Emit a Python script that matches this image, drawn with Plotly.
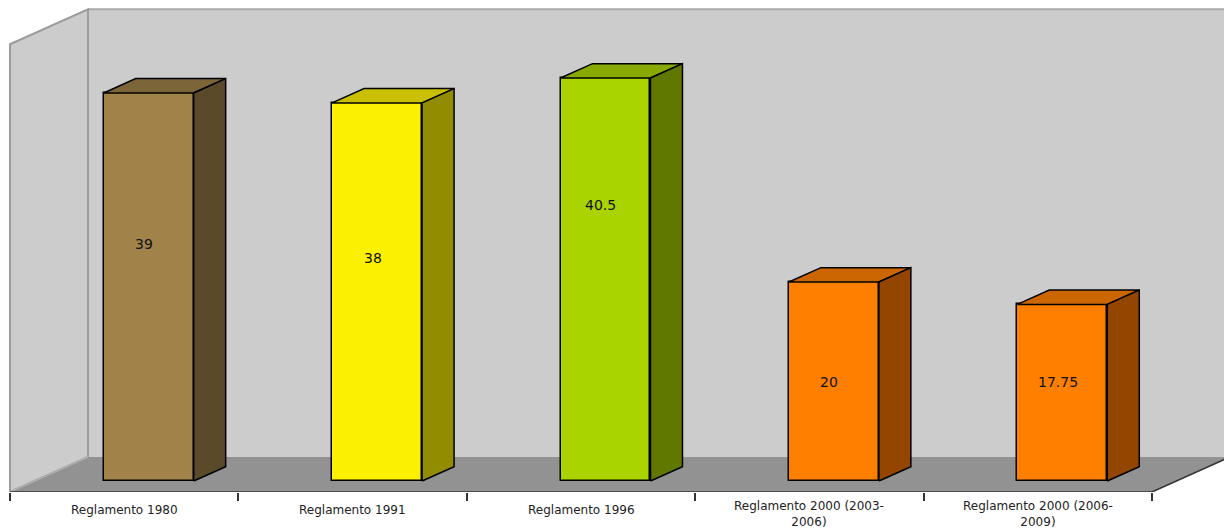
import plotly.graph_objects as go

# ---- data ----
categories = ["Reglamento 1980", "Reglamento 1991", "Reglamento 1996",
              "Reglamento 2000 (2003-<br>2006)", "Reglamento 2000 (2006-<br>2009)"]
values = [39, 38, 40.5, 20, 17.75]
value_labels = ["39", "38", "40.5", "20", "17.75"]
label_heights = [23.8, 22.4, 27.7, 10.0, 10.0]   # where the value text sits on the front face

front_colors = ["#A1834A", "#FAF000", "#AAD400", "#FF7F00", "#FF7F00"]
top_colors = ["#7C6539", "#C8C000", "#88AA00", "#CC6600", "#CC6600"]
side_colors = ["#5A4A2A", "#918C00", "#607800", "#944600", "#944600"]

# ---- oblique projection settings ----
DEPTH_X = 78 / 228.4      # full depth, in category units
DEPTH_Y = 35 / 9.95       # full depth, in value units
WALL_TOP = 45
BAR_D0, BAR_D1 = 0.314, 0.724
BAR_WIDTH = 0.394
N = len(values)

fig = go.Figure()


def path(pts):
    return "M " + " L ".join(f"{x},{y}" for x, y in pts) + " Z"


x_left, x_right = -0.5, N - 0.5
bx, by = DEPTH_X, DEPTH_Y
far = x_right + bx + 1.0
shapes = []
# back wall
shapes.append(dict(type="path", layer="below", xref="x", yref="y",
                   path=path([(x_left + bx, by), (far, by), (far, by + WALL_TOP), (x_left + bx, by + WALL_TOP)]),
                   fillcolor="#CCCCCC", line=dict(width=0)))
# left wall
shapes.append(dict(type="path", layer="below", xref="x", yref="y",
                   path=path([(x_left, 0), (x_left + bx, by), (x_left + bx, by + WALL_TOP), (x_left, WALL_TOP)]),
                   fillcolor="#CCCCCC", line=dict(color="#9C9C9C", width=2)))
# floor
shapes.append(dict(type="path", layer="below", xref="x", yref="y",
                   path=path([(x_left, 0), (x_right, 0), (x_right + bx, by), (x_left + bx, by)]),
                   fillcolor="#929292", line=dict(width=0)))
# back wall top and left edge lines
shapes.append(dict(type="line", layer="below", xref="x", yref="y",
                   x0=x_left + bx, y0=by + WALL_TOP, x1=far, y1=by + WALL_TOP,
                   line=dict(color="#A8A8A8", width=2)))
shapes.append(dict(type="line", layer="below", xref="x", yref="y",
                   x0=x_left + bx, y0=by, x1=x_left + bx, y1=by + WALL_TOP,
                   line=dict(color="#9C9C9C", width=2)))
shapes.append(dict(type="line", layer="below", xref="x", yref="y",
                   x0=x_left, y0=0, x1=x_left + bx, y1=by,
                   line=dict(color="#B0B0B0", width=1.5)))
# front floor edge and right edge
shapes.append(dict(type="line", layer="below", xref="x", yref="y",
                   x0=x_left, y0=0, x1=x_right, y1=0, line=dict(color="#333333", width=1.5)))
shapes.append(dict(type="line", layer="below", xref="x", yref="y",
                   x0=x_right, y0=0, x1=x_right + bx, y1=by, line=dict(color="#333333", width=1.5)))

# front faces (bars)
bar_x = [i + BAR_D0 * DEPTH_X for i in range(N)]
base = BAR_D0 * DEPTH_Y
fig.add_trace(go.Bar(x=bar_x, y=values, base=base, width=BAR_WIDTH,
                     marker=dict(color=front_colors, line=dict(color="black", width=1.5)),
                     hoverinfo="skip", showlegend=False))

# top and side faces
ddx = (BAR_D1 - BAR_D0) * DEPTH_X
ddy = (BAR_D1 - BAR_D0) * DEPTH_Y
for i, v in enumerate(values):
    x0 = bar_x[i] - BAR_WIDTH / 2
    x1 = bar_x[i] + BAR_WIDTH / 2
    top = base + v
    fig.add_trace(go.Scatter(x=[x0, x1, x1 + ddx, x0 + ddx, x0], y=[top, top, top + ddy, top + ddy, top],
                             mode="lines", fill="toself", fillcolor=top_colors[i],
                             line=dict(color="black", width=1.5), hoverinfo="skip", showlegend=False))
    fig.add_trace(go.Scatter(x=[x1, x1 + ddx, x1 + ddx, x1, x1], y=[base, base + ddy, top + ddy, top, base],
                             mode="lines", fill="toself", fillcolor=side_colors[i],
                             line=dict(color="black", width=1.5), hoverinfo="skip", showlegend=False))

annotations = []
for i in range(N):
    annotations.append(dict(x=bar_x[i] - 0.02, y=base + label_heights[i], xref="x", yref="y",
                            text=value_labels[i], showarrow=False,
                            font=dict(family="DejaVu Sans", size=14, color="#111111")))
    two_lines = "<br>" in categories[i]
    annotations.append(dict(x=i, y=0, xref="x", yref="paper", yshift=-5 if two_lines else -9,
                            yanchor="top", text=categories[i], showarrow=False, align="center",
                            font=dict(family="DejaVu Sans", size=12, color="#222222")))

fig.update_layout(
    width=1224, height=531,
    margin=dict(l=0, r=0, t=0, b=39),
    paper_bgcolor="white", plot_bgcolor="white",
    shapes=shapes, annotations=annotations,
    xaxis=dict(range=[-0.5 - 10 / 228.4, -0.5 + 1214 / 228.4], tickvals=[k - 0.5 for k in range(N + 1)],
               ticks="outside", ticklen=8, tickcolor="#333333", tickwidth=1.5,
               showticklabels=False, showgrid=False, zeroline=False, showline=False, fixedrange=True),
    yaxis=dict(range=[0, 492 / 9.95], showgrid=False, zeroline=False, showline=False,
               showticklabels=False, ticks="", fixedrange=True),
    bargap=0,
)

fig.write_html("out.html")
